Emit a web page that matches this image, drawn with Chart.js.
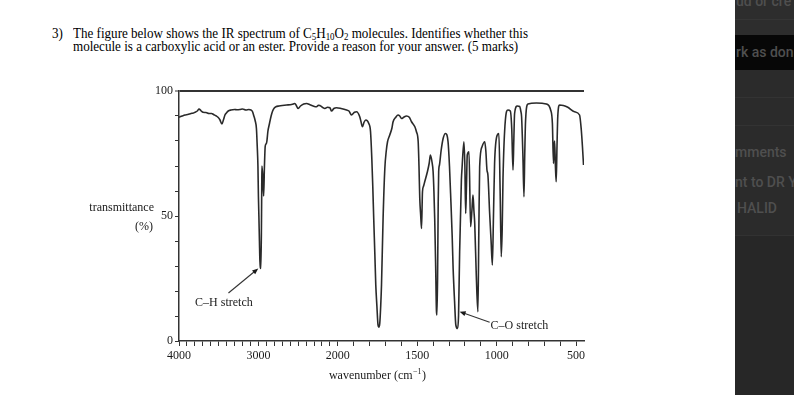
<!DOCTYPE html>
<html>
<head>
<meta charset="utf-8">
<script src="https://cdn.jsdelivr.net/npm/chart.js@4.4.1/dist/chart.umd.min.js"></script>
<style>
html,body{margin:0;padding:0;background:#fff;width:794px;height:395px;overflow:hidden;}
.ql{position:absolute;white-space:nowrap;font-family:"Liberation Serif","Times New Roman",serif;font-size:14px;line-height:16px;color:#000;transform-origin:0 0;}
.ql sub{font-size:9.5px;vertical-align:-2px;line-height:0;}
#wrap{position:absolute;left:80px;top:80px;width:520px;height:310px;}
#panel{position:absolute;left:735px;top:0;width:59px;height:395px;background:#2b2b2b;overflow:hidden;font-family:Roboto,"Open Sans",sans-serif;font-size:14px;font-weight:500;color:#4f4f4f;}
#panel div{position:absolute;}
.pt{white-space:nowrap;line-height:16px;left:0;}
</style>
</head>
<body>
<div class="ql" style="left:52px;top:26px;">3)</div>
<div class="ql" id="l1" style="left:73px;top:26px;">The figure below shows the IR spectrum of C<sub>5</sub>H<sub>10</sub>O<sub>2</sub> molecules. Identifies whether this</div>
<div class="ql" id="l2" style="left:73px;top:39px;">molecule is a carboxylic acid or an ester. Provide a reason for your answer. (5 marks)</div>

<div id="wrap"><canvas id="c" width="520" height="310"></canvas></div>

<div id="panel">
  <div style="left:0;top:0;width:59px;height:35px;background:#2d2d2d;"></div>
  <div style="left:0;top:19px;width:59px;height:1px;background:#353535;"></div>
  <div style="left:0;top:35px;width:59px;height:35px;background:#070707;"></div>
  <div style="left:0;top:97px;width:59px;height:1px;background:#333;"></div>
  <div style="left:0;top:125px;width:59px;height:1px;background:#333;"></div>
  <div style="left:0;top:235px;width:59px;height:160px;background:#272727;border-top:1px solid #323232;"></div>
  <div class="pt" style="top:-7px;left:1px;">ud or cre</div>
  <div class="pt" style="top:44px;left:1px;">rk as don</div>
  <div class="pt" style="top:144px;left:0px;">mments</div>
  <div class="pt" style="top:174px;left:0px;">nt to DR Y</div>
  <div class="pt" style="top:200px;left:2px;">HALID</div>
</div>

<script>
// ---- data ----
const wavenumbers = [
4000,3960,3925,3890,3849,3820,3799,3770,3748,3720,3698,3660,3623,3590,3560,3530,3509,3485,3459,3440,
3420,3409,3380,3346,3300,3270,3233,3200,3157,3120,3094,3075,3057,3040,3025,3015,3006,3000,2994,2987,
2981,2969,2962,2958,2956,2945,2934,2924,2914,2900,2893,2880,2864,2840,2821,2800,2780,2740,2700,2645,
2600,2560,2541,2520,2499,2470,2430,2393,2350,2310,2268,2245,2226,2195,2163,2130,2100,2079,2050,2016,
1980,1945,1930,1914,1895,1882,1862,1855,1845,1835,1824,1805,1794,1786,1780,1774,1767,1761,1754,1747,
1742,1736,1730,1725,1715,1704,1695,1687,1673,1660,1652,1635,1621,1610,1599,1585,1568,1550,1536,1515,
1505,1494,1489,1484,1478,1473,1467,1460,1453,1436,1425,1417,1408,1400,1395,1390,1384,1379,1376,1372,
1368,1365,1360,1350,1337,1322,1306,1297,1288,1280,1274,1265,1257,1246,1240,1233,1222,1218,1206,1200,
1195,1190,1185,1174,1164,1156,1149,1143,1138,1128,1118,1112,1107,1092,1075,1068,1061,1055,1044,1035,
1027,1020,1013,996,986,978,971,965,960,945,929,914,905,897,892,887,870,855,848,843,
835,828,823,818,803,750,687,660,649,642,638,635,630,625,620,615,604,580,552,510,
478,467,460,453
];
const transmittance = [
89.5,90,90.4,90.6,91,91.2,91.5,92,92.8,92,91.5,91.4,91,91,90.5,90,89.5,88.5,86.8,88.5,
90.5,91,92,92.4,92.6,92.5,92.6,92.8,92.4,92.6,92.4,91.8,90,88,85,78,70,58,50,40,
32,29,45,62,70,66,58,70,78,79,80,84,86.5,90,92,93.2,93.7,94,94.2,94.4,
94.5,94.8,95,94,93,94,94.8,95,94.5,94,93.7,94.3,94.2,93.5,93,93.5,93.3,92,93,93.3,
93,92.4,92,90.4,91.5,91.7,89.7,88,85.7,87.5,88.4,87,83.7,73,62,49,35,22.4,14,6.4,
5.5,7,14,22.4,49,69,76,79.7,82.4,85,87.7,89.5,90.4,90,89,89.5,90,89.5,87.7,85.7,
83.7,79.7,70,57,50,45,59.7,62,63.7,67.7,71,74.4,72,67.7,60,49,30,12,10.4,25,
55,67.7,70.4,76,81,83,79.7,70,55.7,42,29,16,6.4,5,10,35.7,64.4,69,79.7,70,
51,62,74.4,75.7,45.7,52,58.4,52,47,26,11.7,45,69.7,77.7,79.7,76,68.4,66.4,51,40,
30.4,50,71,82.4,83,60,33.7,45,65,88.4,92.4,92,85,68.4,80,91,94,93.8,92,89.7,
75,57.7,75,88,94.8,95.2,94.8,92.4,87,71,78,80,70,63.7,78,90,94.4,94.2,93.5,91.7,
90.4,84.4,78,70.4
];
const xMajorTicks = [4000, 3000, 2000, 1500, 1000, 500];
const xMinorTicks = [];
for (let v = 4000; v >= 500; v -= 100) xMinorTicks.push(v);
const yLabelTicks = [0, 50, 100];
const yTitle = ['transmittance', '(%)'];
const xTitle = 'wavenumber (cm';
const xTitleSup = '\u22121';
const annotations = [
  {text: 'C\u2013H stretch', label: [3434, 15.2], align: 'center', from: [3377, 19.2], to: [3002, 29.0]},
  {text: 'C\u2013O stretch', label: [1038, 6.1], align: 'left', from: [1044, 7.5], to: [1233, 11.7]}
];

// fit question lines to the reference width
(function () {
  const l1 = document.getElementById('l1');
  const s = 455 / l1.getBoundingClientRect().width;
  document.querySelectorAll('.ql').forEach(el => { el.style.transform = 'scaleX(' + s + ')'; });
})();

// ---- IR wavenumber scale: 4000-2000 compressed 2x relative to below 2000 ----
class IRScale extends Chart.LinearScale {
  static id = 'irwave';
  static defaults = Chart.LinearScale.defaults;
  buildTicks() {
    this.start = this.max; this.end = this.min;
    return xMinorTicks.map(v => ({value: v, major: xMajorTicks.includes(v)}));
  }
  _u(v) { return v >= 2000 ? (4000 - v) / 2 : 1000 + (2000 - v); }
  getPixelForValue(v) {
    const f = this._u(v) / this._u(this.min);
    return this.left + f * this.width;
  }
  getValueForPixel(p) {
    const u = (p - this.left) / this.width * this._u(this.min);
    return u <= 1000 ? 4000 - 2 * u : 2000 - (u - 1000);
  }
}
Chart.register(IRScale);

const points = wavenumbers.map((w, i) => ({x: w, y: transmittance[i]}));
const serif = 'Liberation Serif';

const extras = {
  id: 'extras',
  afterDraw(chart) {
    const {ctx, chartArea} = chart;
    const x = chart.scales.x, y = chart.scales.y;
    ctx.save();
    ctx.fillStyle = '#1a1a1a';
    ctx.strokeStyle = '#333';
    ctx.font = '12px "' + serif + '"';
    ctx.textBaseline = 'middle';
    ctx.textAlign = 'right';
    ctx.fillText(yTitle[0], chartArea.left - 25, y.getPixelForValue(53.2));
    ctx.fillText(yTitle[1], chartArea.left - 26, y.getPixelForValue(45.6));
    const cx = chartArea.left + 198, cy = chartArea.bottom + 35;
    const w1 = ctx.measureText(xTitle).width;
    ctx.font = '8px "' + serif + '"';
    const w2 = ctx.measureText(xTitleSup).width;
    ctx.font = '12px "' + serif + '"';
    const w3 = ctx.measureText(')').width;
    const sx = cx - (w1 + w2 + w3) / 2;
    ctx.textAlign = 'left';
    ctx.fillText(xTitle, sx, cy);
    ctx.font = '8px "' + serif + '"';
    ctx.fillText(xTitleSup, sx + w1 + 0.5, cy - 4);
    ctx.font = '12px "' + serif + '"';
    ctx.fillText(')', sx + w1 + w2 + 1, cy);
    annotations.forEach(a => {
      ctx.textAlign = a.align;
      ctx.fillStyle = '#1a1a1a';
      ctx.fillText(a.text, x.getPixelForValue(a.label[0]), y.getPixelForValue(a.label[1]));
      const x0 = x.getPixelForValue(a.from[0]), y0 = y.getPixelForValue(a.from[1]);
      const x1 = x.getPixelForValue(a.to[0]), y1 = y.getPixelForValue(a.to[1]);
      const ang = Math.atan2(y1 - y0, x1 - x0);
      ctx.lineWidth = 1.1;
      ctx.beginPath(); ctx.moveTo(x0, y0); ctx.lineTo(x1 - 4 * Math.cos(ang), y1 - 4 * Math.sin(ang)); ctx.stroke();
      ctx.beginPath();
      ctx.moveTo(x1, y1);
      ctx.lineTo(x1 - 6 * Math.cos(ang) + 2.5 * Math.sin(ang), y1 - 6 * Math.sin(ang) - 2.5 * Math.cos(ang));
      ctx.lineTo(x1 - 6 * Math.cos(ang) - 2.5 * Math.sin(ang), y1 - 6 * Math.sin(ang) + 2.5 * Math.cos(ang));
      ctx.closePath(); ctx.fill();
    });
    ctx.restore();
  }
};

new Chart(document.getElementById('c'), {
  type: 'line',
  data: {
    datasets: [{
      data: points,
      borderColor: '#2a2a2a',
      borderWidth: 1.6,
      pointRadius: 0,
      cubicInterpolationMode: 'monotone',
      fill: false
    }]
  },
  options: {
    responsive: false,
    animation: false,
    devicePixelRatio: 1,
    layout: {padding: {top: 11, right: 16, left: 0, bottom: 0}},
    plugins: {legend: {display: false}, tooltip: {enabled: false}},
    scales: {
      x: {
        type: 'irwave', axis: 'x', position: 'bottom', min: 450, max: 4000,
        afterFit(s) { s.height = 49; },
        ticks: {autoSkip: false, maxRotation: 0, minRotation: 0, padding: 3, color: '#1a1a1a',
          font: {family: serif, size: 12},
          callback: v => xMajorTicks.includes(v) ? String(v) : ''},
        grid: {drawOnChartArea: false, tickLength: 5, tickColor: '#333', tickWidth: 1},
        border: {display: true, color: '#333', width: 1.5}
      },
      y: {
        type: 'linear', position: 'left', min: 0, max: 100,
        afterFit(s) { s.width = 99; },
        ticks: {stepSize: 10, padding: 2, color: '#1a1a1a', font: {family: serif, size: 12},
          callback: v => yLabelTicks.includes(v) ? String(v) : ''},
        grid: {drawOnChartArea: true,
          color: c => (c.tick && c.tick.value === 100) ? '#333' : 'rgba(0,0,0,0)',
          lineWidth: c => (c.tick && c.tick.value === 100) ? 2 : 1,
          tickLength: 4, tickColor: '#333', tickWidth: 1},
        border: {display: true, color: '#333', width: 1.5}
      }
    }
  },
  plugins: [extras]
});
</script>
</body>
</html>
